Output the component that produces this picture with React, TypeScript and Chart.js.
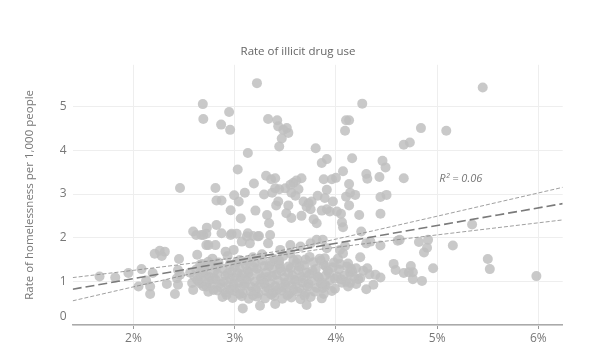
import React, { useEffect, useRef } from 'react';
import { Chart, registerables } from 'chart.js';

Chart.register(...registerables);

// ---------- data ----------
const xTickValues = [2, 3, 4, 5, 6];
const yTickValues = [0, 1, 2, 3, 4, 5];
const xTitle = 'Rate of illicit drug use';
const yTitle = 'Rate of homelessness per 1,000 people';
const rSquaredText = 'R² = 0.06';
const rSquaredPosition = [5.02, 3.35];

// counties above ~2 per 1,000
const upperPoints: [number, number][] = [
  [3.22, 5.54], [2.685, 5.06], [2.69, 4.72], [2.945, 4.88], [2.866, 4.59], [2.955, 4.47],
  [3.33, 4.72], [3.42, 4.69], [3.43, 4.55], [3.515, 4.51], [3.53, 4.40], [3.48, 4.47],
  [3.465, 4.27], [3.44, 4.09], [4.26, 5.07], [4.10, 4.69], [4.13, 4.69], [4.09, 4.45],
  [3.80, 4.05], [4.67, 4.13], [4.73, 4.18], [3.13, 3.94], [3.03, 3.56], [2.46, 3.14],
  [2.81, 3.14], [2.82, 2.85], [2.87, 2.85], [2.995, 2.97], [3.04, 2.83], [3.10, 3.03],
  [3.19, 3.24], [2.96, 2.63], [3.06, 2.44], [3.205, 2.62], [3.29, 2.99], [3.31, 3.42],
  [3.36, 3.34], [3.40, 3.36], [3.37, 3.03], [3.40, 3.13], [3.44, 3.11], [3.50, 3.13],
  [3.55, 3.21], [3.58, 3.26], [3.61, 3.31], [3.66, 3.36], [3.56, 3.03], [3.60, 2.96],
  [3.63, 3.11], [3.43, 2.83], [3.41, 2.74], [3.53, 2.74], [3.51, 2.56], [3.56, 2.45],
  [3.32, 2.52], [3.34, 2.33], [3.23, 2.03], [3.68, 2.83], [3.73, 2.79], [3.76, 2.83],
  [3.82, 2.96], [3.91, 3.10], [3.88, 3.34], [3.96, 3.34], [4.00, 3.37], [3.86, 3.71],
  [3.91, 3.80], [4.16, 3.82], [4.07, 3.52], [4.13, 3.23], [4.14, 3.03], [4.19, 2.98],
  [4.10, 2.94], [4.13, 2.74], [3.89, 2.91], [3.97, 2.83], [3.91, 2.65], [3.86, 2.62],
  [3.94, 2.60], [4.01, 2.60], [4.05, 2.55], [4.06, 2.35], [4.07, 2.24], [4.23, 2.52],
  [3.75, 2.65], [3.81, 2.33], [3.78, 2.42], [3.66, 2.50], [3.71, 2.71], [4.44, 2.55],
  [4.44, 2.93], [4.50, 2.98], [4.43, 3.39], [4.30, 3.46], [4.31, 3.35], [4.46, 3.76],
  [4.49, 3.61], [4.67, 3.36], [4.25, 2.14], [2.725, 2.23], [2.82, 2.29], [2.59, 2.14],
  [3.13, 2.10], [3.02, 2.09], [5.45, 5.44], [4.84, 4.51], [5.09, 4.45], [5.345, 2.30],
  [2.67, 2.06], [2.87, 2.10], [2.96, 2.06],
];

// band between ~1.5 and ~2.3
const middlePoints: [number, number][] = [
  [2.21, 1.63], [2.26, 1.70], [2.31, 1.68], [2.28, 1.58], [2.45, 1.51], [2.62, 2.06],
  [2.69, 2.06], [2.63, 1.61], [2.72, 1.83], [5.155, 1.82], [4.82, 1.90], [4.91, 1.95],
  [4.90, 1.77], [4.87, 1.66], [4.63, 1.95], [4.44, 1.82], [4.61, 1.93], [4.24, 1.55],
  [4.57, 1.40], [4.59, 1.26], [4.09, 1.81], [4.07, 1.64], [4.04, 1.72], [3.91, 1.76],
  [3.87, 1.95], [4.30, 1.87], [4.34, 1.91], [2.72, 2.09], [2.97, 2.09], [3.12, 2.03],
  [3.18, 2.04], [3.24, 2.04], [3.35, 2.06], [2.81, 1.83], [2.74, 1.83], [3.15, 1.87],
  [3.07, 1.91], [3.33, 1.87], [2.99, 1.72], [2.91, 1.68], [3.45, 1.72], [3.55, 1.83],
  [3.65, 1.80], [3.75, 1.87], [3.81, 1.95],
];

// low-use counties on the left
const leftPoints: [number, number][] = [
  [1.665, 1.11], [1.82, 1.09], [1.95, 1.19], [2.08, 1.28], [2.05, 0.88], [2.125, 1.02],
  [2.165, 0.88], [2.165, 0.71], [2.19, 1.19], [2.33, 0.94], [2.41, 0.71], [2.44, 1.26],
  [2.43, 1.07], [2.44, 0.92], [2.46, 1.15], [2.58, 0.96], [2.56, 1.20], [2.63, 1.03],
  [2.66, 1.19], [2.72, 1.11], [2.72, 0.88], [2.66, 1.38], [2.74, 1.45], [2.69, 1.26],
  [2.59, 0.80], [2.79, 0.80], [2.92, 0.69], [2.99, 0.92],
];

// dense core of the cloud
const corePoints: [number, number][] = [
  [2.78, 1.52], [2.93, 1.58], [3.05, 1.49], [3.18, 1.55], [3.27, 1.62], [3.39, 1.51],
  [3.48, 1.58], [3.62, 1.50], [3.74, 1.56], [3.85, 1.47], [4.02, 1.52], [3.55, 1.64],
  [2.68, 1.40], [2.76, 1.36], [2.84, 1.43], [2.95, 1.38], [3.02, 1.44], [3.11, 1.37],
  [3.20, 1.42], [3.29, 1.35], [3.36, 1.45], [3.44, 1.39], [3.53, 1.34], [3.61, 1.42],
  [3.69, 1.37], [3.78, 1.44], [3.88, 1.38], [3.97, 1.32], [4.12, 1.41], [4.20, 1.30],
  [2.62, 1.27], [2.70, 1.31], [2.80, 1.24], [2.88, 1.29], [2.97, 1.22], [3.05, 1.30],
  [3.13, 1.25], [3.22, 1.29], [3.31, 1.21], [3.38, 1.28], [3.46, 1.23], [3.55, 1.30],
  [3.63, 1.25], [3.71, 1.20], [3.80, 1.28], [3.92, 1.24], [4.03, 1.27], [4.14, 1.19],
  [4.27, 1.24], [2.60, 1.12], [2.67, 1.16], [2.75, 1.10], [2.83, 1.17], [2.91, 1.13],
  [2.99, 1.09], [3.07, 1.16], [3.15, 1.11], [3.24, 1.17], [3.32, 1.10], [3.41, 1.15],
  [3.49, 1.08], [3.57, 1.14], [3.66, 1.11], [3.74, 1.17], [3.83, 1.09], [3.90, 1.14],
  [3.99, 1.06], [4.08, 1.13], [4.18, 1.10], [4.33, 1.16], [2.64, 1.01], [2.73, 0.98],
  [2.81, 1.04], [2.89, 0.99], [2.96, 1.05], [3.04, 0.97], [3.12, 1.03], [3.20, 0.99],
  [3.28, 1.04], [3.35, 0.96], [3.43, 1.02], [3.51, 0.98], [3.59, 1.04], [3.67, 0.97],
  [3.76, 1.01], [3.85, 0.95], [3.94, 1.02], [4.10, 0.99], [4.20, 0.94], [2.69, 0.89],
  [2.77, 0.92], [2.86, 0.86], [2.94, 0.91], [3.01, 0.85], [3.09, 0.90], [3.17, 0.87],
  [3.25, 0.92], [3.33, 0.84], [3.40, 0.89], [3.48, 0.86], [3.56, 0.91], [3.64, 0.84],
  [3.72, 0.88], [3.81, 0.85], [3.90, 0.90], [3.99, 0.83], [4.12, 0.88], [2.74, 0.76],
  [2.83, 0.79], [2.91, 0.74], [3.00, 0.78], [3.08, 0.73], [3.16, 0.77], [3.23, 0.72],
  [3.31, 0.78], [3.38, 0.74], [3.46, 0.79], [3.54, 0.72], [3.62, 0.77], [3.70, 0.73],
  [3.79, 0.76], [3.88, 0.71], [3.96, 0.78], [2.88, 0.64], [2.98, 0.62], [3.07, 0.66],
  [3.14, 0.60], [3.22, 0.65], [3.30, 0.61], [3.39, 0.66], [3.47, 0.60], [3.56, 0.63],
  [3.65, 0.59], [3.75, 0.64], [3.86, 0.61], [2.71, 1.21], [2.79, 1.07], [2.86, 0.95],
  [2.93, 1.18], [3.00, 1.33], [3.06, 1.08], [3.10, 0.94], [3.14, 1.20], [3.19, 1.33],
  [3.21, 0.81], [3.26, 1.07], [3.29, 0.95], [3.34, 1.35], [3.37, 1.12], [3.42, 0.80],
  [3.45, 1.30], [3.50, 0.93], [3.53, 1.19], [3.58, 0.81], [3.60, 1.01], [3.64, 1.33],
  [3.68, 1.06], [3.73, 0.94], [3.77, 1.24], [3.82, 1.11], [3.86, 0.97], [3.93, 1.20],
  [3.98, 1.43], [4.05, 1.05], [4.15, 1.29], [2.95, 0.81], [3.03, 1.19], [3.12, 1.46],
  [3.27, 1.48], [3.44, 1.47], [3.58, 1.49], [3.70, 1.50], [3.84, 1.52], [2.82, 1.34],
  [2.66, 0.95], [3.36, 0.70], [3.52, 0.68], [3.18, 0.68], [3.05, 0.71], [3.69, 0.67],
];

// sparse right edge of the cloud and far right
const rightPoints: [number, number][] = [
  [4.31, 1.30], [4.39, 1.15], [4.37, 0.92], [4.30, 0.82], [4.44, 1.09], [4.24, 1.07],
  [4.16, 1.22], [4.11, 1.34], [4.04, 1.40], [3.89, 1.53], [3.90, 1.34], [4.01, 1.11],
  [4.06, 0.97], [4.14, 0.96], [4.22, 1.05], [3.89, 0.92], [3.87, 0.84], [4.74, 1.35],
  [4.67, 1.19], [4.72, 1.21], [4.76, 1.21], [4.76, 1.05], [4.85, 1.01], [4.96, 1.30],
  [5.50, 1.51], [5.52, 1.28], [5.98, 1.12],
];

// lowest outliers
const bottomPoints: [number, number][] = [
  [3.08, 0.38], [3.25, 0.44], [3.40, 0.48], [3.71, 0.46],
];

// fitted line and its confidence band
const fitX = [1.4, 2.0, 2.6, 3.0, 3.4, 3.8, 4.4, 5.0, 5.6, 6.24];
const fitMid = [0.82, 1.063, 1.306, 1.468, 1.63, 1.792, 2.035, 2.278, 2.521, 2.78];
const fitUpper = [1.086, 1.252, 1.422, 1.54, 1.68, 1.864, 2.175, 2.492, 2.812, 3.153];
const fitLower = [0.554, 0.874, 1.19, 1.396, 1.58, 1.72, 1.895, 2.064, 2.23, 2.407];

const FONT = "'Open Sans', 'DejaVu Sans', sans-serif";

const toXY = (arr: [number, number][]) => arr.map(([x, y]) => ({ x, y }));
const lineXY = (ys: number[]) => fitX.map((x, i) => ({ x, y: ys[i] }));

const annotationPlugin = {
  id: 'annotations',
  afterDatasetsDraw(chart: any) {
    const { ctx, scales } = chart;
    const px = scales.x.getPixelForValue(rSquaredPosition[0]);
    const py = scales.y.getPixelForValue(rSquaredPosition[1]);
    ctx.save();
    ctx.font = `italic 11px ${FONT}`;
    ctx.fillStyle = '#777';
    ctx.textAlign = 'left';
    ctx.textBaseline = 'middle';
    ctx.fillText(rSquaredText, px, py);
    // zero label of the y axis sits just above the baseline
    ctx.font = `12px ${FONT}`;
    ctx.textAlign = 'right';
    ctx.fillText(String(yTickValues[0]), scales.y.right - 6, scales.y.getPixelForValue(yTickValues[0]) - 8);
    ctx.restore();
  },
};

export default function App() {
  const ref = useRef<HTMLCanvasElement | null>(null);

  useEffect(() => {
    if (!ref.current) return;
    const pointStyle = {
      backgroundColor: 'rgba(192,192,192,0.85)',
      borderWidth: 0,
      pointRadius: 5,
      pointHoverRadius: 5,
      order: 2,
    };
    const lineStyle = {
      showLine: true,
      pointRadius: 0,
      fill: false,
      order: 0,
    };
    const chart = new Chart(ref.current, {
      type: 'scatter',
      data: {
        datasets: [
          { ...lineStyle, data: lineXY(fitMid), borderColor: '#7a7a7a', borderWidth: 1.6, borderDash: [9, 4] },
          { ...lineStyle, data: lineXY(fitUpper), borderColor: '#888', borderWidth: 0.8, borderDash: [4, 2] },
          { ...lineStyle, data: lineXY(fitLower), borderColor: '#888', borderWidth: 0.8, borderDash: [4, 2] },
          { ...pointStyle, data: toXY(upperPoints) },
          { ...pointStyle, data: toXY(middlePoints) },
          { ...pointStyle, data: toXY(leftPoints) },
          { ...pointStyle, data: toXY(corePoints) },
          { ...pointStyle, data: toXY(rightPoints) },
          { ...pointStyle, data: toXY(bottomPoints) },
        ] as any,
      },
      options: {
        animation: false,
        responsive: false,
        events: [],
        layout: { padding: { left: 0, right: 0, top: 0, bottom: 0 } },
        plugins: {
          legend: { display: false },
          tooltip: { enabled: false },
          title: {
            display: true,
            text: xTitle,
            color: '#666',
            font: { family: FONT, size: 11.5, weight: 'normal' },
            padding: { top: 45, bottom: 6 },
          },
        },
        scales: {
          x: {
            type: 'linear',
            min: 1.4,
            max: 6.24,
            afterBuildTicks: (s: any) => { s.ticks = xTickValues.map((v) => ({ value: v })); },
            afterFit: (s: any) => { s.height = 38; },
            grid: { color: '#eeeeee', tickColor: '#999', tickLength: 4 },
            border: { color: '#aaa', width: 1.5 },
            ticks: {
              color: '#777',
              font: { family: FONT, size: 12 },
              padding: 2,
              callback: (v: any) => `${v}%`,
            },
          },
          y: {
            type: 'linear',
            min: 0,
            max: 5.96,
            afterBuildTicks: (s: any) => { s.ticks = yTickValues.map((v) => ({ value: v })); },
            afterFit: (s: any) => { s.width = 72.7; },
            grid: { color: '#eeeeee', drawTicks: false },
            border: { display: false },
            ticks: {
              color: '#777',
              font: { family: FONT, size: 12 },
              padding: 6,
              callback: (v: any) => (v === yTickValues[0] ? '' : String(v)),
            },
            title: {
              display: true,
              text: yTitle,
              color: '#777',
              font: { family: FONT, size: 11.5 },
              padding: { top: 23, bottom: 0 },
            },
          },
          rightGutter: {
            type: 'linear',
            position: 'right',
            min: 0,
            max: 1,
            afterFit: (s: any) => { s.width = 33.3; },
            grid: { display: false, drawTicks: false },
            border: { display: false },
            ticks: { display: false },
          },
        },
      } as any,
      plugins: [annotationPlugin],
    });
    return () => chart.destroy();
  }, []);

  return (
    <div style={{ position: 'fixed', left: 0, top: 0, width: 596, height: 363, background: '#fff' }}>
      <canvas ref={ref} width={596} height={363} style={{ display: 'block' }} />
    </div>
  );
}
